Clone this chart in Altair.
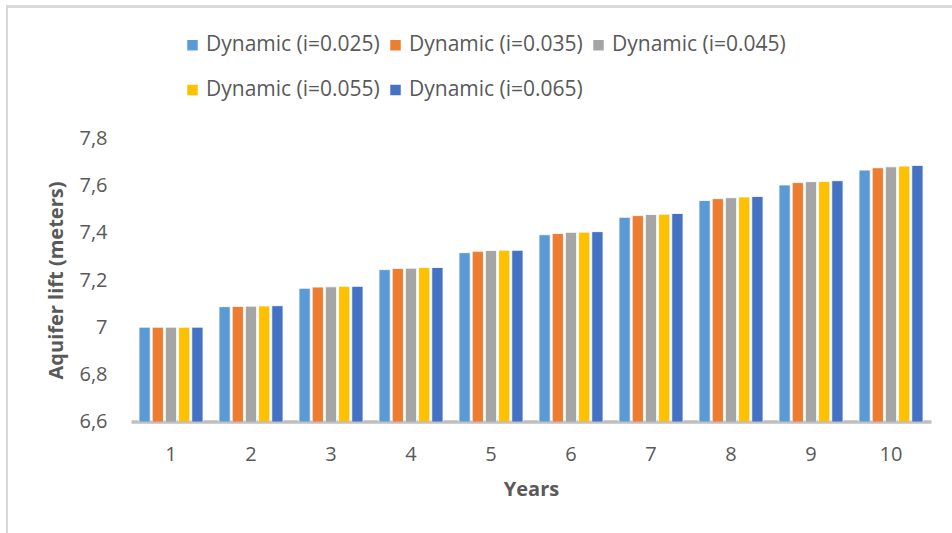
import altair as alt
import pandas as pd

# Aquifer lift per year for each discount rate
years = [1, 2, 3, 4, 5, 6, 7, 8, 9, 10]
series = [
    "Dynamic (i=0.025)",
    "Dynamic (i=0.035)",
    "Dynamic (i=0.045)",
    "Dynamic (i=0.055)",
    "Dynamic (i=0.065)",
]
lift_025 = [7.000, 7.087, 7.165, 7.244, 7.316, 7.392, 7.466, 7.537, 7.603, 7.666]
lift_035 = [7.000, 7.088, 7.170, 7.249, 7.322, 7.397, 7.473, 7.545, 7.613, 7.676]
lift_045 = [7.000, 7.089, 7.171, 7.250, 7.325, 7.402, 7.478, 7.549, 7.617, 7.680]
lift_055 = [7.000, 7.090, 7.173, 7.253, 7.326, 7.403, 7.479, 7.552, 7.618, 7.683]
lift_065 = [7.000, 7.091, 7.173, 7.253, 7.326, 7.405, 7.482, 7.554, 7.621, 7.686]
colors = ["#5B9BD5", "#ED7D31", "#A5A5A5", "#FFC000", "#4472C4"]
y_ticks = [6.6, 6.8, 7.0, 7.2, 7.4, 7.6, 7.8]

rows = []
for name, vals in zip(series, [lift_025, lift_035, lift_045, lift_055, lift_065]):
    for yr, v in zip(years, vals):
        rows.append({"Year": str(yr), "Series": name, "Lift": v})
df = pd.DataFrame(rows)

FONT = "Open Sans"
TXT = "#595959"
W, H = 800, 283

bars = alt.Chart(df).mark_bar(stroke="white", strokeWidth=0.8, clip=True).encode(
    x=alt.X(
        "Year:N",
        sort=[str(y) for y in years],
        scale=alt.Scale(paddingInner=0.2, paddingOuter=0.1),
        axis=alt.Axis(
            title="Years",
            titleFont=FONT,
            titleFontSize=20,
            titleFontWeight="bold",
            titleColor=TXT,
            titlePadding=15,
            labelFont=FONT,
            labelFontSize=20,
            labelColor=TXT,
            labelAngle=0,
            labelPadding=23,
            ticks=False,
            domainColor="#BFBFBF",
            domainWidth=3.5,
        ),
    ),
    xOffset=alt.XOffset("Series:N", sort=series, scale=alt.Scale(paddingInner=0.15)),
    y=alt.Y(
        "Lift:Q",
        scale=alt.Scale(domain=[6.6, 7.8], zero=False, nice=False),
        axis=alt.Axis(
            title="Aquifer lift (meters)",
            titleFont=FONT,
            titleFontSize=20,
            titleFontWeight="bold",
            titleColor=TXT,
            titlePadding=12,
            labelFont=FONT,
            labelFontSize=20,
            labelColor=TXT,
            labelPadding=24,
            values=y_ticks,
            labelExpr="replace(format(datum.value, '~g'), '.', ',')",
            ticks=False,
            domain=False,
            grid=False,
        ),
    ),
    color=alt.Color(
        "Series:N",
        sort=series,
        scale=alt.Scale(domain=series, range=colors),
        legend=alt.Legend(
            title=None,
            orient="none",
            legendX=51,
            legendY=-104,
            direction="horizontal",
            columns=3,
            symbolType="square",
            symbolSize=110,
            symbolStrokeWidth=0,
            labelFont=FONT,
            labelFontSize=21,
            labelColor=TXT,
            labelOffset=3,
            labelLimit=300,
            columnPadding=5,
            rowPadding=23,
        ),
    ),
)

# light frame along the top and left edges of the chart
frame_top = alt.Chart(df).mark_rule(color="#D9D9D9", strokeWidth=2, clip=False).encode(
    x=alt.value(-125), x2=alt.value(W + 60), y=alt.value(-132)
)
frame_left = alt.Chart(df).mark_rule(color="#D9D9D9", strokeWidth=2, clip=False).encode(
    x=alt.value(-124), y=alt.value(-132), y2=alt.value(H + 120)
)

chart = (
    alt.layer(bars, frame_top, frame_left)
    .properties(
        width=W,
        height=H,
        padding={"left": 131, "top": 138.5, "right": 21, "bottom": 112},
        autosize=alt.AutoSizeParams(type="none"),
        background="white",
    )
    .configure_view(stroke=None)
)

chart.save("out.html", embed_options={"renderer": "svg", "actions": False})
